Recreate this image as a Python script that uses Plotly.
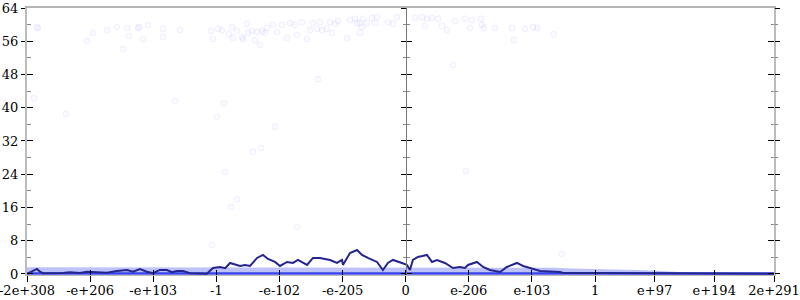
import plotly.graph_objects as go

# ---- data (x in binary-exponent ordinal units, y in bits of error) ----
tick_vals = [-2046, -1705, -1364, -1023, -682, -341, 0, 341, 682, 1023, 1345, 1667, 1990]
tick_text = ["-2e+308", "-e+206", "-e+103", "-1", "-e-102", "-e-205", "0",
             "e-206", "e-103", "1", "e+97", "e+194", "2e+291"]
y_ticks = [0, 8, 16, 24, 32, 40, 48, 56, 64]

line_x = [-2046, -2019, -1992, -1976, -1960, -1852, -1814, -1760, -1722, -1668, -1614,
          -1560, -1506, -1473, -1436, -1398, -1365, -1328, -1290, -1263, -1236, -1203,
          -1165, -1074, -1041, -1003, -975, -949, -920, -895, -868, -841, -803, -771,
          -744, -706, -679, -641, -609, -582, -533, -501, -463, -409, -371, -344, -339,
          -301, -263, -236, -204, -155, -123, -96, -69, -31, -20, 7, 23, 39, 66, 90, 115,
          142, 169, 212, 256, 293, 320, 337, 385, 418, 455, 510, 547, 601, 634, 672, 726,
          834, 850, 1050, 1321, 1591, 1990]
line_y = [0.0, 0.55, 1.2, 0.55, 0.17, 0.24, 0.41, 0.24, 0.55, 0.41, 0.31,
          0.72, 0.96, 0.55, 1.2, 0.55, 0.17, 0.96, 0.96, 0.41, 0.72, 0.72,
          0.17, 0.07, 1.44, 1.68, 1.4, 2.65, 2.3, 1.92, 2.17, 1.92, 3.85, 4.57,
          3.61, 2.89, 1.92, 2.89, 2.65, 3.37, 2.17, 3.85, 3.85, 3.37, 2.65, 3.37, 2.17,
          5.05, 5.77, 4.57, 3.85, 2.89, 0.96, 2.65, 3.37, 2.89, 2.65, 2.17, 0.96, 3.37, 4.09, 4.3, 4.57,
          2.89, 3.37, 2.65, 1.44, 1.68, 1.44, 2.17, 2.89, 1.68, 0.96, 0.48, 1.68, 2.65, 1.92, 1.44, 0.72,
          0.48, 0.24, 0.24, 0.15, 0.08, 0.05]

pts_x = [-2008, -1992, -1987, -1835, -1722, -1690, -1614, -1560, -1527, -1506, -1495,
         -1446, -1441, -1419, -1392, -1311, -1311, -1246, -1219, -1052, -1041, -1020,
         -1014, -993, -982, -955, -938, -933, -911, -884, -879, -857, -852, -830, -814,
         -803, -787, -776, -760, -749, -781, -825, -976, -911, -944, -1047, -717, -695,
         -668, -641, -625, -598, -587, -560, -533, -517, -501, -479, -463, -452, -425,
         -409, -398, -382, -366, -317, -301, -274, -263, -247, -236, -247, -231, -209,
         -182, -166, -155, -96, -69, -47, -474, -706, -587,
         50, 88, 104, 115, 142, 175, 196, 223, 266, 320, 347, 358, 407, 412, 423, 482,
         574, 585, 645, 688, 710, 801, 256, 326, 844]
pts_y = [42.3, 59.4, 59.2, 38.5, 56.1, 58.0, 58.7, 59.4, 54.1, 59.2, 57.3,
         59.2, 59.4, 56.5, 59.9, 59.0, 57.0, 41.6, 58.7, 58.5, 56.5, 37.8,
         59.0, 58.7, 41.1, 57.7, 59.4, 56.8, 58.5, 57.0, 56.5, 60.2, 58.0, 58.5, 56.3,
         58.2, 55.1, 58.5, 58.0, 59.2, 30.3, 29.4, 24.5, 18.0, 16.1, 7.0, 59.9, 58.2,
         59.9, 56.8, 60.4, 59.9, 57.5, 60.6, 56.5, 58.7, 60.4, 59.0, 60.6, 58.7, 59.0,
         60.6, 58.0, 60.2, 60.9, 56.8, 61.1, 61.4, 60.4, 60.4, 59.4, 58.0, 61.4, 60.4,
         61.6, 60.4, 61.8, 60.6, 60.2, 61.8, 46.9, 35.4, 11.3,
         61.6, 61.8, 59.7, 61.4, 61.6, 61.4, 59.7, 58.7, 60.9, 61.4, 59.2, 61.1, 61.4, 59.9, 59.2, 59.2,
         59.2, 56.3, 59.0, 59.4, 59.2, 57.7, 50.3, 24.8, 4.8]

# density band of the many near-zero points
band_x = [-2046, -1100, -1000, 700, 800, 900, 1100, 1300, 1500, 1990]
band_top = [1.6, 1.6, 1.6, 1.6, 1.5, 1.3, 1.1, 0.9, 0.4, 0.3]
floor_x = [-2046, 1990]
floor_y = [0.1, 0.1]

FONT = "DejaVu Serif"
fig = go.Figure()

fig.add_trace(go.Scatter(x=band_x, y=band_top, mode="lines", line=dict(width=0),
                         fill="tozeroy", fillcolor="rgba(110,120,245,0.45)",
                         hoverinfo="skip", showlegend=False))
fig.add_trace(go.Scatter(x=floor_x, y=floor_y, mode="lines",
                         line=dict(color="rgba(30,45,230,0.85)", width=2.5),
                         hoverinfo="skip", showlegend=False))
fig.add_trace(go.Scatter(x=pts_x, y=pts_y, mode="markers",
                         marker=dict(size=6, color="rgba(90,90,255,0.03)",
                                     line=dict(width=1, color="rgba(90,90,255,0.08)")),
                         showlegend=False))
fig.add_trace(go.Scatter(x=line_x, y=line_y, mode="lines",
                         line=dict(color="#25258f", width=2),
                         showlegend=False))

# empty traces so that every overlay axis is registered and drawn
for xa, ya in [("x2", "y"), ("x3", "y"), ("x", "y2"), ("x", "y3"),
               ("x", "y4"), ("x", "y5"), ("x", "y6")]:
    fig.add_trace(go.Scatter(x=[], y=[], xaxis=xa, yaxis=ya, mode="lines",
                             hoverinfo="skip", showlegend=False))

xr = [-2046, 1990]
yr = [-0.25, 64]
zero_pos = (0 - xr[0]) / (xr[1] - xr[0])
common_x = dict(range=xr, showgrid=False, zeroline=False, tickmode="array",
                tickvals=tick_vals, automargin=False, fixedrange=True,
                ticklabeloverflow="allow")
common_y = dict(range=yr, showgrid=False, zeroline=False, tickmode="array",
                tickvals=y_ticks, automargin=False, fixedrange=True,
                ticklabeloverflow="allow")

fig.update_layout(
    width=800, height=300,
    margin=dict(l=27, r=26, t=8, b=25),
    plot_bgcolor="white", paper_bgcolor="white",
    font=dict(family=FONT, size=13, color="black"),
    xaxis=dict(**common_x, ticktext=tick_text, ticks="outside", ticklen=6,
               tickcolor="black", tickwidth=1, showline=True,
               linecolor="#bbbbbb", linewidth=1, ticklabelstandoff=-3),
    xaxis2=dict(**common_x, overlaying="x", anchor="y", side="bottom",
                ticks="inside", ticklen=5, tickcolor="black", showticklabels=False),
    xaxis3=dict(range=xr, overlaying="x", anchor="y", side="top", showgrid=False,
                zeroline=False, showticklabels=False, ticks="", showline=True,
                linecolor="#b5b5b5", linewidth=2, automargin=False),
    yaxis=dict(**common_y, ticks="outside", ticklen=4, tickcolor="black",
               showline=True, linecolor="#bbbbbb", linewidth=2),
    yaxis2=dict(**common_y, overlaying="y", anchor="x", side="left",
                ticks="inside", ticklen=6, tickcolor="black", showticklabels=False,
                minor=dict(ticks="inside", ticklen=4, dtick=4, tick0=0, tickcolor="#888")),
    yaxis3=dict(**common_y, overlaying="y", anchor="x", side="right",
                ticks="inside", ticklen=6, tickcolor="black", showticklabels=False,
                showline=True, linecolor="#bbbbbb", linewidth=2,
                minor=dict(ticks="inside", ticklen=3, dtick=4, tick0=0, tickcolor="#888")),
    yaxis4=dict(**common_y, overlaying="y", anchor="x", side="right",
                ticks="outside", ticklen=5, tickcolor="black", showticklabels=False,
                minor=dict(ticks="outside", ticklen=3, dtick=4, tick0=0, tickcolor="#888")),
    yaxis5=dict(**common_y, overlaying="y", anchor="free", side="left",
                position=zero_pos,
                ticks="outside", ticklen=5, tickcolor="black", showticklabels=False,
                showline=True, linecolor="#777777", linewidth=1,
                minor=dict(ticks="outside", ticklen=3, dtick=4, tick0=0, tickcolor="#888")),
    yaxis6=dict(**common_y, overlaying="y", anchor="free", side="left",
                position=zero_pos,
                ticks="inside", ticklen=5, tickcolor="black", showticklabels=False,
                minor=dict(ticks="inside", ticklen=3, dtick=4, tick0=0, tickcolor="#888")),
)

fig.write_html("out.html")
